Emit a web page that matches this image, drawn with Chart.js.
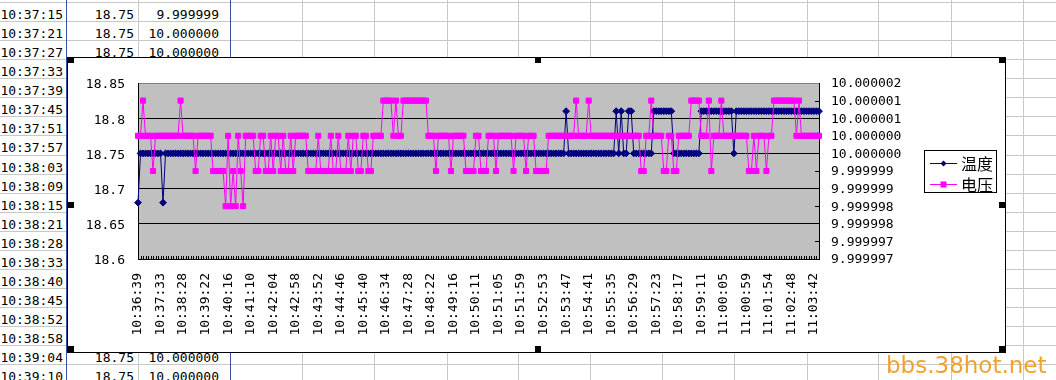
<!DOCTYPE html>
<html>
<head>
<meta charset="utf-8">
<script src="https://cdn.jsdelivr.net/npm/chart.js@4.4.0/dist/chart.umd.min.js"></script>
<style>
  html, body { margin: 0; padding: 0; background: #fff; }
  #page { position: relative; width: 1056px; height: 380px; overflow: hidden; background: #fff;
          font-family: "DejaVu Sans Mono", monospace; font-size: 13px; }
  .hl { position: absolute; left: 0; width: 1056px; height: 1px; background: #c8c8c8; }
  .vl { position: absolute; top: 0; width: 1px; height: 380px; background: #c8c8c8; }
  .vl.blue { background: #3c4fa6; }
  .cell { position: absolute; height: 19px; line-height: 19px; text-align: right; white-space: nowrap; color: #000; }
  #frame { position: absolute; left: 67px; top: 57px; width: 937px; height: 294px; border: 1px solid #000; background: #fff; }
  #chart { position: absolute; left: 0; top: 0; }
  .handle { position: absolute; width: 6px; height: 6px; background: #000; }
  #mark { position: absolute; left: 886px; top: 352px; line-height: 27px; font-family: "DejaVu Sans", sans-serif;
          font-size: 23px; color: #f2a22c; white-space: nowrap; }
</style>
</head>
<body>
<div id="page">
  <div id="sheet"></div>
  <div id="frame"><canvas id="chart" width="937" height="294"></canvas></div>
  <div id="handles"></div>
  <div id="mark">bbs.38hot.net</div>
</div>
<script>
// x axis: one label every 9 samples
const timeTicks = ['10:36:39','10:37:33','10:38:28','10:39:22','10:40:16','10:41:10','10:42:04','10:42:58',
  '10:43:52','10:44:46','10:45:40','10:46:34','10:47:28','10:48:22','10:49:16','10:50:11','10:51:05',
  '10:51:59','10:52:53','10:53:47','10:54:41','10:55:35','10:56:29','10:57:23','10:58:17','10:59:11',
  '11:00:05','11:00:59','11:01:54','11:02:48','11:03:42'];

const seriesNames = ['温度', '电压'];

// 温度 (left axis)
const temperature = [
  18.68,18.75,18.75,18.75,18.75,18.75,18.75,18.75,18.75,18.75,
  18.68,18.75,18.75,18.75,18.75,18.75,18.75,18.75,18.75,18.75,
  18.75,18.75,18.75,18.75,18.75,18.75,18.75,18.75,18.75,18.75,
  18.75,18.75,18.75,18.75,18.75,18.75,18.75,18.75,18.75,18.75,
  18.75,18.75,18.75,18.75,18.75,18.75,18.75,18.75,18.75,18.75,
  18.75,18.75,18.75,18.75,18.75,18.75,18.75,18.75,18.75,18.75,
  18.75,18.75,18.75,18.75,18.75,18.75,18.75,18.75,18.75,18.75,
  18.75,18.75,18.75,18.75,18.75,18.75,18.75,18.75,18.75,18.75,
  18.75,18.75,18.75,18.75,18.75,18.75,18.75,18.75,18.75,18.75,
  18.75,18.75,18.75,18.75,18.75,18.75,18.75,18.75,18.75,18.75,
  18.75,18.75,18.75,18.75,18.75,18.75,18.75,18.75,18.75,18.75,
  18.75,18.75,18.75,18.75,18.75,18.75,18.75,18.75,18.75,18.75,
  18.75,18.75,18.75,18.75,18.75,18.75,18.75,18.75,18.75,18.75,
  18.75,18.75,18.75,18.75,18.75,18.75,18.75,18.75,18.75,18.75,
  18.75,18.75,18.75,18.75,18.75,18.75,18.75,18.75,18.75,18.75,
  18.75,18.75,18.75,18.75,18.75,18.75,18.75,18.75,18.75,18.75,
  18.75,18.75,18.75,18.75,18.75,18.75,18.75,18.75,18.75,18.75,
  18.75,18.81,18.75,18.75,18.75,18.75,18.75,18.75,18.75,18.75,
  18.75,18.75,18.75,18.75,18.75,18.75,18.75,18.75,18.75,18.75,
  18.75,18.81,18.75,18.81,18.75,18.75,18.81,18.81,18.75,18.75,
  18.75,18.75,18.75,18.75,18.75,18.75,18.81,18.81,18.81,18.81,
  18.81,18.81,18.81,18.81,18.75,18.75,18.75,18.75,18.75,18.75,
  18.75,18.75,18.75,18.75,18.75,18.81,18.81,18.81,18.81,18.81,
  18.81,18.81,18.81,18.81,18.81,18.81,18.81,18.81,18.75,18.81,
  18.81,18.81,18.81,18.81,18.81,18.81,18.81,18.81,18.81,18.81,
  18.81,18.81,18.81,18.81,18.81,18.81,18.81,18.81,18.81,18.81,
  18.81,18.81,18.81,18.81,18.81,18.81,18.81,18.81,18.81,18.81,
  18.81,18.81,18.81
];

// 电压 (right axis)
const voltage = [
  10.0000005,10.0000005,10.0000015,10.0000005,10.0000005,10.0000005,9.9999995,10.0000005,10.0000005,10.0000005,
  10.0000005,10.0000005,10.0000005,10.0000005,10.0000005,10.0000005,10.0000005,10.0000015,10.0000005,10.0000005,
  10.0000005,10.0000005,10.0000005,9.9999995,10.0000005,10.0000005,10.0000005,10.0000005,10.0000005,10.0000005,
  9.9999995,9.9999995,9.9999995,9.9999995,9.9999995,9.9999985,10.0000005,9.9999985,9.9999995,9.9999985,
  10.0000005,9.9999995,9.9999985,10.0000005,10.0000005,10.0000005,10.0000005,9.9999995,9.9999995,10.0000005,
  10.0000005,9.9999995,9.9999995,10.0000005,9.9999995,10.0000005,10.0000005,9.9999995,10.0000005,9.9999995,
  9.9999995,10.0000005,9.9999995,10.0000005,10.0000005,10.0000005,10.0000005,10.0000005,9.9999995,9.9999995,
  9.9999995,9.9999995,10.0000005,9.9999995,9.9999995,9.9999995,9.9999995,10.0000005,9.9999995,9.9999995,
  10.0000005,9.9999995,9.9999995,9.9999995,10.0000005,9.9999995,10.0000005,10.0000005,9.9999995,9.9999995,
  10.0000005,10.0000005,9.9999995,9.9999995,10.0000005,10.0000005,10.0000005,10.0000005,10.0000015,10.0000015,
  10.0000015,10.0000015,10.0000005,10.0000015,10.0000005,10.0000005,10.0000015,10.0000015,10.0000015,10.0000015,
  10.0000015,10.0000015,10.0000015,10.0000015,10.0000015,10.0000015,10.0000005,10.0000005,10.0000005,9.9999995,
  10.0000005,10.0000005,10.0000005,10.0000005,10.0000005,9.9999995,10.0000005,10.0000005,10.0000005,10.0000005,
  10.0000005,9.9999995,9.9999995,9.9999995,9.9999995,10.0000005,10.0000005,9.9999995,9.9999995,9.9999995,
  10.0000005,10.0000005,10.0000005,9.9999995,10.0000005,10.0000005,10.0000005,10.0000005,10.0000005,10.0000005,
  9.9999995,10.0000005,10.0000005,10.0000005,10.0000005,9.9999995,10.0000005,10.0000005,10.0000005,9.9999995,
  9.9999995,9.9999995,9.9999995,9.9999995,10.0000005,10.0000005,10.0000005,10.0000005,10.0000005,10.0000005,
  10.0000005,10.0000005,10.0000005,10.0000005,10.0000005,10.0000015,10.0000005,10.0000005,10.0000005,10.0000005,
  10.0000015,10.0000005,10.0000005,10.0000005,10.0000005,10.0000005,10.0000005,10.0000005,10.0000005,10.0000005,
  10.0000005,10.0000005,10.0000005,10.0000005,10.0000005,10.0000005,10.0000005,10.0000005,10.0000005,10.0000005,
  10.0000005,9.9999995,9.9999995,10.0000005,10.0000005,10.0000015,10.0000005,10.0000005,10.0000005,10.0000005,
  9.9999995,9.9999995,10.0000005,10.0000005,9.9999995,9.9999995,10.0000005,10.0000005,10.0000005,10.0000005,
  10.0000005,10.0000015,10.0000015,10.0000015,10.0000015,10.0000005,10.0000005,10.0000005,10.0000015,9.9999995,
  10.0000005,10.0000005,10.0000005,10.0000015,10.0000005,10.0000005,10.0000005,10.0000005,10.0000005,10.0000005,
  10.0000005,10.0000005,10.0000005,10.0000005,9.9999995,9.9999995,10.0000005,9.9999995,10.0000005,10.0000005,
  10.0000005,9.9999995,10.0000005,10.0000005,10.0000015,10.0000015,10.0000015,10.0000015,10.0000015,10.0000015,
  10.0000015,10.0000015,10.0000015,10.0000005,10.0000015,10.0000005,10.0000005,10.0000005,10.0000005,10.0000005,
  10.0000005,10.0000005,10.0000005
];

const tempTickValues = [18.6, 18.65, 18.7, 18.75, 18.8, 18.85];
const tempTickLabels = ['18.6', '18.65', '18.7', '18.75', '18.8', '18.85'];
const voltTickValues = [9.999997, 9.9999975, 9.999998, 9.9999985, 9.999999, 9.9999995,
  10.0, 10.0000005, 10.000001, 10.0000015, 10.000002];
const voltTickLabels = ['9.999997', '9.999997', '9.999998', '9.999998', '9.999999', '9.999999',
  '10.000000', '10.000000', '10.000001', '10.000001', '10.000002'];

// spreadsheet cells visible around the chart
const sheetTimes = ['10:37:15','10:37:21','10:37:27','10:37:33','10:37:39','10:37:45','10:37:51','10:37:57',
  '10:38:03','10:38:09','10:38:15','10:38:21','10:38:28','10:38:33','10:38:40','10:38:45','10:38:52',
  '10:38:58','10:39:04','10:39:10'];
const sheetTemp = ['18.75','18.75','18.75','','','','','','','','','','','','','','','','18.75','18.75'];
const sheetVolt = ['9.999999','10.000000','10.000000','','','','','','','','','','','','','','','','10.000000','10.000000'];

// ---- spreadsheet background ----
const sheet = document.getElementById('sheet');
function addDiv(cls, style, text) {
  const d = document.createElement('div');
  d.className = cls;
  Object.assign(d.style, style);
  if (text) d.textContent = text;
  sheet.appendChild(d);
}
for (let k = 0; k <= 20; k++) {
  addDiv('hl', { top: Math.round(2.1 + 19.05 * k) + 'px' });
}
[66, 138, 230, 302, 374, 447, 518, 590, 662, 734, 807, 878, 951, 1023].forEach(function(x) {
  addDiv(x === 66 || x === 230 ? 'vl blue' : 'vl', { left: x + 'px' });
});
sheetTimes.forEach(function(t, k) {
  const top = Math.round(2.1 + 19.05 * k) + 3;
  addDiv('cell', { left: '0px', width: '63px', top: top + 'px' }, t);
  if (sheetTemp[k]) addDiv('cell', { left: '66px', width: '68px', top: top + 'px' }, sheetTemp[k]);
  if (sheetVolt[k]) addDiv('cell', { left: '138px', width: '81px', top: top + 'px' }, sheetVolt[k]);
});

// selection handles of the chart object
const handles = document.getElementById('handles');
[[68, 57], [535, 57], [999, 57], [68, 202], [999, 202], [68, 346], [535, 346], [999, 346]].forEach(function(p) {
  const h = document.createElement('div');
  h.className = 'handle';
  h.style.left = p[0] + 'px';
  h.style.top = p[1] + 'px';
  handles.appendChild(h);
});

// ---- chart ----
const labels = temperature.map(function(_, i) { return i % 9 === 0 ? timeTicks[i / 9] : ''; });

const plotBackground = {
  id: 'plotBackground',
  beforeDraw: function(chart) {
    const ctx = chart.ctx, a = chart.chartArea;
    ctx.save();
    ctx.fillStyle = '#c0c0c0';
    ctx.fillRect(a.left, a.top, a.right - a.left, a.bottom - a.top);
    ctx.restore();
  }
};

// Excel style inside tick marks
const innerTicks = {
  id: 'innerTicks',
  beforeDatasetsDraw: function(chart) {
    const ctx = chart.ctx, a = chart.chartArea;
    const xs = chart.scales.x, y1 = chart.scales.y1;
    ctx.save();
    ctx.strokeStyle = '#000';
    ctx.lineWidth = 1;
    ctx.beginPath();
    for (let i = 0; i < labels.length; i++) {
      const px = Math.round(xs.getPixelForValue(i)) + 0.5;
      ctx.moveTo(px, a.bottom - 3);
      ctx.lineTo(px, a.bottom);
    }
    y1.ticks.forEach(function(t, k) {
      if (k % 2 === 1) {
        const py = Math.round(y1.getPixelForValue(t.value)) + 0.5;
        ctx.moveTo(a.right - 4, py);
        ctx.lineTo(a.right, py);
      }
    });
    ctx.stroke();
    ctx.restore();
  }
};

const legendBox = {
  id: 'legendBox',
  afterDraw: function(chart) {
    const ctx = chart.ctx;
    ctx.save();
    ctx.strokeStyle = '#000';
    ctx.lineWidth = 1;
    ctx.strokeRect(856.5, 92.5, 72, 42);
    chart.data.datasets.forEach(function(ds, k) {
      const cy = k === 0 ? 105.5 : 126.5;
      ctx.strokeStyle = ds.borderColor;
      ctx.beginPath();
      ctx.moveTo(862, cy);
      ctx.lineTo(889, cy);
      ctx.stroke();
      ctx.fillStyle = ds.borderColor;
      ctx.beginPath();
      if (k === 0) {
        ctx.moveTo(875.5, cy - 3); ctx.lineTo(878.5, cy); ctx.lineTo(875.5, cy + 3); ctx.lineTo(872.5, cy);
      } else {
        ctx.rect(872.5, cy - 3, 6, 6);
      }
      ctx.fill();
      ctx.fillStyle = '#000';
      ctx.font = '16px "Noto Sans CJK SC"';
      ctx.textBaseline = 'middle';
      ctx.fillText(ds.label, 893, cy);
    });
    ctx.restore();
  }
};

Chart.defaults.font.family = '"DejaVu Sans Mono", monospace';
Chart.defaults.font.size = 13;
Chart.defaults.color = '#000';

new Chart(document.getElementById('chart'), {
  type: 'line',
  data: {
    labels: labels,
    datasets: [{
      label: seriesNames[0],
      data: temperature,
      yAxisID: 'y',
      borderColor: '#000080',
      backgroundColor: '#000080',
      borderWidth: 1,
      pointStyle: 'rectRot',
      pointRadius: 3.4,
      pointBorderWidth: 1,
      pointBorderColor: '#000080',
      pointBackgroundColor: '#000080',
      tension: 0,
      order: 2
    }, {
      label: seriesNames[1],
      data: voltage,
      yAxisID: 'y1',
      borderColor: '#ff00ff',
      backgroundColor: '#ff00ff',
      borderWidth: 1,
      pointStyle: 'rect',
      pointRadius: 3.6,
      pointBorderWidth: 1,
      pointBorderColor: '#ff00ff',
      pointBackgroundColor: '#ff00ff',
      tension: 0,
      order: 1
    }]
  },
  options: {
    responsive: false,
    animation: false,
    devicePixelRatio: 1,
    layout: { padding: { top: 25, left: 0, right: 0, bottom: 0 } },
    plugins: {
      legend: { display: false },
      tooltip: { enabled: false }
    },
    scales: {
      x: {
        type: 'category',
        afterFit: function(s) { s.height = 93; },
        grid: { display: false, drawTicks: false },
        border: { color: '#000' },
        ticks: { autoSkip: false, minRotation: 90, maxRotation: 90, padding: 14 }
      },
      y: {
        position: 'left',
        min: 18.6,
        max: 18.85,
        afterBuildTicks: function(s) { s.ticks = tempTickValues.map(function(v) { return { value: v }; }); },
        afterFit: function(s) { s.width = 70; },
        grid: {
          drawTicks: false,
          color: function(c) { return c.tick && c.tick.value > 18.84 ? '#808080' : '#000'; }
        },
        border: { color: '#000' },
        ticks: { autoSkip: false, padding: 13, labelOffset: 2, callback: function(v, i) { return tempTickLabels[i]; } }
      },
      y1: {
        position: 'right',
        min: 9.999997,
        max: 10.000002,
        afterBuildTicks: function(s) { s.ticks = voltTickValues.map(function(v) { return { value: v }; }); },
        afterFit: function(s) { s.width = 186; },
        grid: { drawOnChartArea: false, drawTicks: false },
        border: { color: '#000' },
        ticks: { autoSkip: false, padding: 12, labelOffset: 1, callback: function(v, i) { return voltTickLabels[i]; } }
      }
    }
  },
  plugins: [plotBackground, innerTicks, legendBox]
});
</script>
</body>
</html>
